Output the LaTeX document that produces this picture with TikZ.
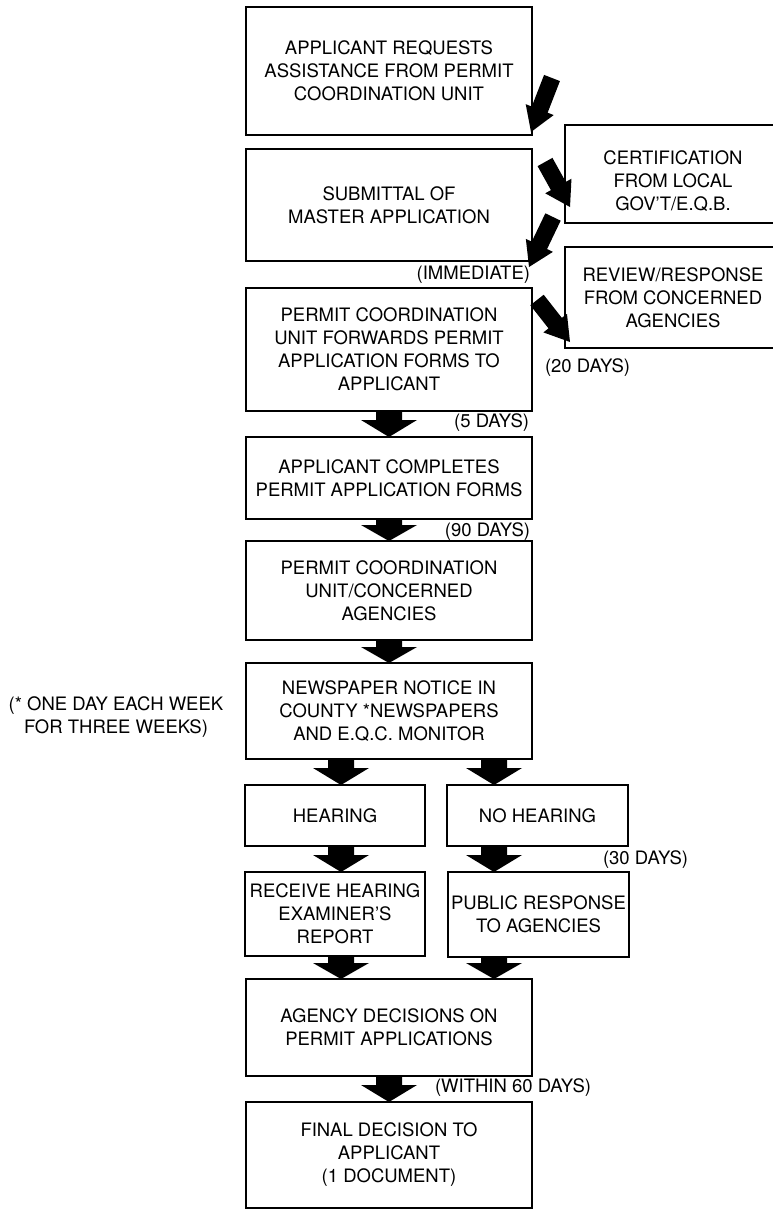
\documentclass[tikz,border=0pt]{standalone}
\usepackage{fontspec}
\setmainfont{TeX Gyre Heros}
\usetikzlibrary{calc}
\newcommand{\boxfont}{\fontsize{18.5}{23}\selectfont}
\tikzset{
  box/.style={draw, line width=2.8pt, rectangle, inner sep=0pt, outer sep=0pt, align=center, font=\boxfont},
  lbl/.style={inner sep=0pt, outer sep=0pt, align=center, font=\boxfont},
}
% block arrow: #1 shaft half width, #2 head half width, #3 head length, #4 tail, #5 tip
\newcommand{\blk}[5]{%
  \coordinate (bkT) at (#4);
  \coordinate (bkP) at (#5);
  \coordinate (bkH) at ($(bkP)!#3!(bkT)$);
  \fill ($(bkT)!#1!90:(bkP)$) -- ($(bkH)!#1!90:(bkP)$) -- ($(bkH)!#2!90:(bkP)$) -- (bkP)
     -- ($(bkH)!#2!-90:(bkP)$) -- ($(bkH)!#1!-90:(bkP)$) -- ($(bkT)!#1!-90:(bkP)$) -- cycle;}
\begin{document}
\begin{tikzpicture}[x=1pt,y=-1pt]
\fill[white] (0,0) rectangle (773,1209);
\useasboundingbox (0,0) rectangle (773,1209);

% columns for vertical arrows
\coordinate (mx) at (389,0);
\coordinate (lx) at (341,0);
\coordinate (rx) at (494,0);

% main boxes
\node[box, minimum width=286pt, minimum height=128pt] (b1) at (389,71) {APPLICANT REQUESTS\\ASSISTANCE FROM PERMIT\\COORDINATION UNIT};
\node[box, minimum width=286pt, minimum height=112pt] (b2) at (389,205) {SUBMITTAL OF\\MASTER APPLICATION};
\node[box, minimum width=286pt, minimum height=123pt] (b3) at (389,349.5) {PERMIT COORDINATION\\UNIT FORWARDS PERMIT\\APPLICATION FORMS TO\\APPLICANT};
\node[box, minimum width=216pt, minimum height=98pt] (cert) at (673,174) {};
\node[lbl] (certt) at (673,181) {CERTIFICATION\\FROM LOCAL\\GOV'T/E.Q.B.};
\node[box, minimum width=216pt, minimum height=101pt] (rev) at (673,297.5) {REVIEW/RESPONSE\\FROM CONCERNED\\AGENCIES};
\node[box, minimum width=286pt, minimum height=82pt] (b4) at (389,478) {APPLICANT COMPLETES\\PERMIT APPLICATION FORMS};
\node[box, minimum width=286pt, minimum height=99pt] (b5) at (389,590.5) {PERMIT COORDINATION\\UNIT/CONCERNED\\AGENCIES};
\node[box, minimum width=286pt, minimum height=96pt] (b6) at (389,711) {NEWSPAPER NOTICE IN\\COUNTY *NEWSPAPERS\\AND E.Q.C. MONITOR};
\node[box, minimum width=180pt, minimum height=61pt] (hear) at (335,815.5) {HEARING};
\node[box, minimum width=181pt, minimum height=61pt] (nohear) at (537.5,815.5) {NO HEARING};
\node[box, minimum width=180pt, minimum height=84pt] (recv) at (335,914) {RECEIVE HEARING\\EXAMINER'S\\REPORT};
\node[box, minimum width=181pt, minimum height=85pt] (pub) at (538.5,914.5) {PUBLIC RESPONSE\\TO AGENCIES};
\node[box, minimum width=286pt, minimum height=97pt] (agency) at (389,1027.5) {AGENCY DECISIONS ON\\PERMIT APPLICATIONS};
\node[box, minimum width=286pt, minimum height=106pt] (final) at (389,1155) {FINAL DECISION TO\\APPLICANT\\(1 DOCUMENT)};

% labels
\node[lbl, anchor=east] (imm) at (530,275) {(IMMEDIATE)};
\node[lbl, anchor=west] (d20) at (545,368) {(20 DAYS)};
\node[lbl, anchor=east] (d5) at (529,423) {(5 DAYS)};
\node[lbl, anchor=east] (d90) at (530,532) {(90 DAYS)};
\node[lbl] (week) at (116,717.5) {(* ONE DAY EACH WEEK\\FOR THREE WEEKS)};
\node[lbl, anchor=west] (d30) at (603,860) {(30 DAYS)};
\node[lbl, anchor=west] (d60) at (435,1088) {(WITHIN 60 DAYS)};

% diagonal arrow end points
\coordinate (t1) at (552,78);  \coordinate (p1) at (531,132);
\coordinate (t2) at (545,162); \coordinate (p2) at (570,207);
\coordinate (t3) at (553,217); \coordinate (p3) at (529,267);
\coordinate (t4) at (537,300); \coordinate (p4) at (570,342);
\blk{8.5pt}{15pt}{24pt}{t1}{p1}
\blk{8.5pt}{15pt}{24pt}{t2}{p2}
\blk{8.5pt}{15pt}{24pt}{t3}{p3}
\blk{8.5pt}{15pt}{24pt}{t4}{p4}

% vertical block arrows
\blk{13pt}{28pt}{17pt}{b3.south -| mx}{b4.north -| mx}
\blk{13pt}{28pt}{16pt}{b4.south -| mx}{b5.north -| mx}
\blk{13pt}{28pt}{16pt}{b5.south -| mx}{b6.north -| mx}
\blk{13pt}{28pt}{17pt}{b6.south -| lx}{hear.north -| lx}
\blk{13pt}{28pt}{17pt}{b6.south -| rx}{nohear.north -| rx}
\blk{13pt}{28pt}{17pt}{hear.south -| lx}{recv.north -| lx}
\blk{13pt}{28pt}{17pt}{nohear.south -| rx}{pub.north -| rx}
\blk{13pt}{28pt}{16pt}{recv.south -| lx}{agency.north -| lx}
\blk{13pt}{28pt}{16pt}{pub.south -| rx}{agency.north -| rx}
\blk{13pt}{28pt}{17pt}{agency.south -| mx}{final.north -| mx}
\end{tikzpicture}
\end{document}
